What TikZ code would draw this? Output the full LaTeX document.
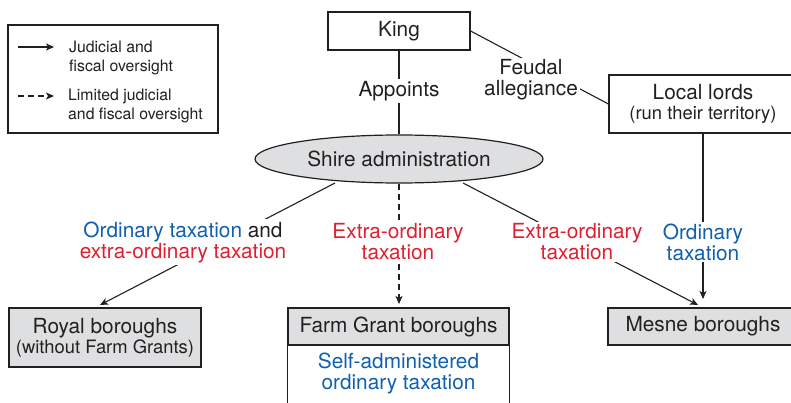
\documentclass[tikz,border=0pt]{standalone}
\usepackage{fontspec}
\setmainfont{TeX Gyre Heros}
\usetikzlibrary{arrows.meta,shapes.geometric}
\definecolor{txt}{HTML}{231F20}
\definecolor{tblue}{HTML}{1060B0}
\definecolor{tred}{HTML}{E0202F}
\definecolor{boxgray}{HTML}{DEDFE0}
\tikzset{
  mainfont/.style={font=\fontsize{20.8}{21}\selectfont},
  subfont/.style={font=\fontsize{18.4}{20}\selectfont},
  legfont/.style={font=\fontsize{15.8}{19}\selectfont},
  box/.style={draw=txt, line width=1.2pt, rectangle, inner sep=0pt, align=center, mainfont, text=txt},
  graybox/.style={box, fill=boxgray},
  conn/.style={draw=txt, line width=1.1pt},
  arr/.style={conn, -{Stealth[length=8pt,width=7pt,inset=2pt]}},
  darr/.style={arr, dash pattern=on 6pt off 4pt},
  lbl/.style={fill=white, inner sep=2pt, align=center, mainfont, text=txt},
}
\begin{document}
\begin{tikzpicture}[x=1pt,y=-1pt]
\useasboundingbox (0,0) rectangle (791,403);
\fill[white] (0,0) rectangle (791,403);

% legend
\node[draw=txt, line width=1.1pt, minimum width=210pt, minimum height=108pt, inner sep=0pt] (leg) at (113,79) {};
\coordinate (la1) at (18,47);
\coordinate (lb1) at (54,47);
\coordinate (la2) at (18,96);
\coordinate (lb2) at (54,96);
\draw[arr] (la1) -- (lb1);
\draw[darr] (la2) -- (lb2);
\node[anchor=west, align=left, legfont, text=txt, inner sep=0pt] (legt1) at (69,57.5) {Judicial and\\fiscal oversight};
\node[anchor=west, align=left, legfont, text=txt, inner sep=0pt] (legt2) at (68,105.5) {Limited judicial\\and fiscal oversight};

% main nodes
\node[box, minimum width=142pt, minimum height=38pt] (king) at (399,31) {King};
\node[box, minimum width=188pt, minimum height=58pt] (lords) at (703,104)
  {Local lords\\[-1pt]{\fontsize{18.4}{20}\selectfont(run their territory)}};
\node[draw=txt, line width=1.2pt, fill=boxgray, ellipse, minimum width=288pt, minimum height=48pt, inner sep=0pt, mainfont, text=txt] (shire) at (399,159) {Shire administration};
\node[graybox, minimum width=192pt, minimum height=59pt] (royal) at (105,337.5)
  {Royal boroughs\\[-1pt]{\fontsize{18.4}{20}\selectfont(without Farm Grants)}};
\node[graybox, minimum width=221pt, minimum height=37pt] (farm) at (398.5,326.5) {Farm Grant boroughs};
\node[graybox, minimum width=190pt, minimum height=37pt] (mesne) at (703,326.5) {Mesne boroughs};
\node[align=center, mainfont, text=tblue, inner sep=0pt] (self) at (398.5,373) {Self-administered\\ordinary taxation};
\coordinate (fbl) at (farm.south west |- 0,404);
\coordinate (fbr) at (farm.south east |- 0,404);
\draw[draw=txt, line width=1.2pt] (farm.south west) -- (fbl);
\draw[draw=txt, line width=1.2pt] (farm.south east) -- (fbr);

% connectors
\coordinate (sl) at (335,183);
\coordinate (sr) at (463,183);
\coordinate (royaltip) at (100,305);
\coordinate (mesnetip) at (698,305);
\coordinate (lordsbot) at (703,133);
\coordinate (lordstip) at (703,299);
\coordinate (farmtip) at (399,304);

\draw[conn] (king.south) -- (shire.north);
\draw[conn] (king.east) -- (lords.west);
\draw[arr] (sl) -- (royaltip);
\draw[darr] (shire.south) -- (farmtip);
\draw[arr] (sr) -- (mesnetip);
\draw[arr] (lordsbot) -- (lordstip);

% labels
\node[lbl] (appoints) at (399,91) {Appoints};
\node[lbl] (feudal) at (531,80) {Feudal\\allegiance};
\node[lbl] (ltax) at (183,242) {\textcolor{tblue}{Ordinary taxation} and\\\textcolor{tred}{extra-ordinary taxation}};
\node[lbl, text=tred] (mtax) at (398,242) {Extra-ordinary\\taxation};
\node[lbl, text=tred] (rtax) at (577,242) {Extra-ordinary\\taxation};
\node[lbl, text=tblue] (otax) at (703,242) {Ordinary\\taxation};
\end{tikzpicture}
\end{document}
